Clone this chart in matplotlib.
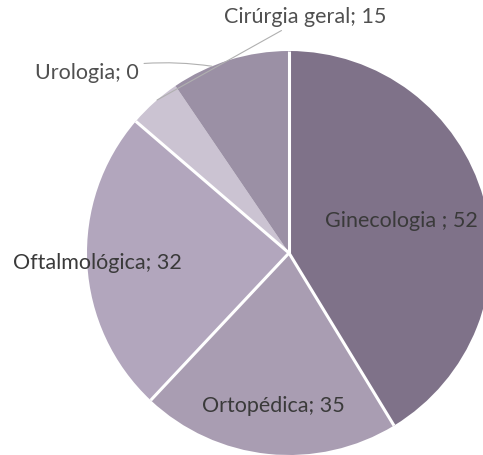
import numpy as np
import matplotlib
matplotlib.use("Agg")
import matplotlib.pyplot as plt

# --- Data (slice shares, labels as printed) ---
categories = ["Ginecologia ", "Ortopédica", "Oftalmológica", "Urologia", "Cirúrgia geral"]
printed_values = [52, 35, 32, 0, 15]
slice_shares = [41.3, 20.7, 24.3, 4.2, 9.5]
colors = ["#7f7289", "#a99db2", "#b2a6bd", "#cbc3d2", "#9b90a5"]

plt.rcParams["font.family"] = ["Lato", "DejaVu Sans"]

fig = plt.figure(figsize=(4.83, 4.55), dpi=100)
ax = fig.add_axes([0, 0, 1, 1])

wedges, _ = ax.pie(
    slice_shares,
    colors=colors,
    startangle=90,
    counterclock=False,
    radius=1.0,
    wedgeprops=dict(linewidth=0),
)

# white separators (none between Urologia and Cirúrgia geral)
for i in [0, 1, 2, 3]:
    a = np.deg2rad(wedges[i].theta2)
    ax.plot([0, np.cos(a)], [0, np.sin(a)], color="white", lw=2.2,
            solid_capstyle="butt")

# pixel frame: centre at (289, 253), radius 202 px
ax.set_xlim(-289 / 202, (483 - 289) / 202)
ax.set_ylim(-(455 - 253) / 202, 253 / 202)
ax.set_aspect("auto")
ax.axis("off")

labels = [f"{c}; {v}" for c, v in zip(categories, printed_values)]

# labels placed inside their wedge
inside_r = {0: 0.58, 1: 0.76, 2: 0.95}
for i, r in inside_r.items():
    w = wedges[i]
    mid = np.deg2rad((w.theta1 + w.theta2) / 2)
    ax.text(r * np.cos(mid), r * np.sin(mid), labels[i],
            ha="center", va="center", fontsize=15.5, color="#3a3a3a")

# outside labels with leader lines
def edge(angle_deg):
    a = np.deg2rad(angle_deg)
    return np.cos(a), np.sin(a)

ax.annotate(labels[3], xy=edge(112.4), xytext=(-0.745, 0.893),
            ha="right", va="center", fontsize=15.5, color="#505050",
            arrowprops=dict(arrowstyle="-", color="#b0b0b0", lw=0.8,
                            connectionstyle="arc3,rad=-0.1", shrinkA=2, shrinkB=0))
ax.annotate(labels[4], xy=edge(130.8), xytext=(-0.32, 1.168),
            ha="left", va="center", fontsize=15.5, color="#505050",
            arrowprops=dict(arrowstyle="-", color="#b0b0b0", lw=0.8,
                            shrinkA=1, shrinkB=0))

fig.savefig("out.png", dpi=100)
